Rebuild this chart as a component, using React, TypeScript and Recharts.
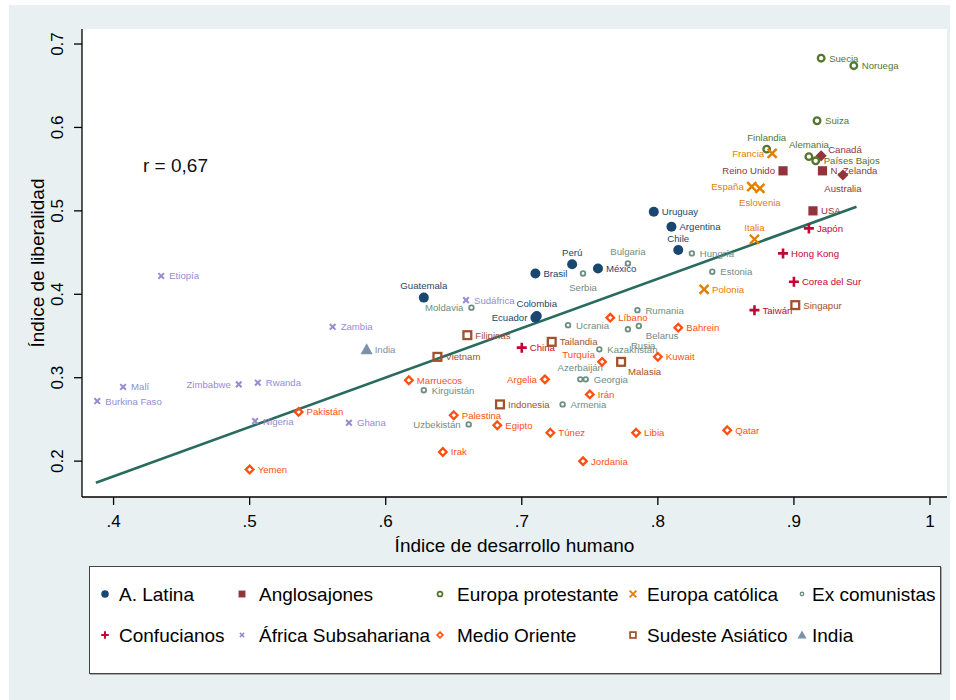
import React from 'react'
import {
  ScatterChart,
  Scatter,
  XAxis,
  YAxis,
  CartesianGrid,
  ReferenceLine,
} from 'recharts'

type Pais = { pais: string; idh: number; lib: number }

const aLatina: Pais[] = [
  { pais: 'Uruguay', idh: 0.797, lib: 0.499 },
  { pais: 'Argentina', idh: 0.81, lib: 0.481 },
  { pais: 'Chile', idh: 0.815, lib: 0.453 },
  { pais: 'Perú', idh: 0.737, lib: 0.436 },
  { pais: 'México', idh: 0.756, lib: 0.431 },
  { pais: 'Brasil', idh: 0.71, lib: 0.425 },
  { pais: 'Guatemala', idh: 0.628, lib: 0.396 },
  { pais: 'Colombia', idh: 0.711, lib: 0.374 },
  { pais: 'Ecuador', idh: 0.71, lib: 0.372 },
]

const anglosajones: Pais[] = [
  { pais: 'Reino Unido', idh: 0.892, lib: 0.548 },
  { pais: 'N. Zelanda', idh: 0.921, lib: 0.548 },
  { pais: 'Canadá', idh: 0.92, lib: 0.566 },
  { pais: 'Australia', idh: 0.936, lib: 0.543 },
  { pais: 'USA', idh: 0.914, lib: 0.5 },
]

const europaProtestante: Pais[] = [
  { pais: 'Suecia', idh: 0.92, lib: 0.683 },
  { pais: 'Noruega', idh: 0.944, lib: 0.674 },
  { pais: 'Suiza', idh: 0.917, lib: 0.608 },
  { pais: 'Finlandia', idh: 0.88, lib: 0.574 },
  { pais: 'Alemania', idh: 0.911, lib: 0.565 },
  { pais: 'Países Bajos', idh: 0.916, lib: 0.56 },
]

const europaCatolica: Pais[] = [
  { pais: 'Francia', idh: 0.884, lib: 0.569 },
  { pais: 'España', idh: 0.869, lib: 0.529 },
  { pais: 'Eslovenia', idh: 0.875, lib: 0.527 },
  { pais: 'Italia', idh: 0.871, lib: 0.466 },
  { pais: 'Polonia', idh: 0.834, lib: 0.406 },
]

const exComunistas: Pais[] = [
  { pais: 'Bulgaria', idh: 0.778, lib: 0.437 },
  { pais: 'Serbia', idh: 0.745, lib: 0.425 },
  { pais: 'Hungría', idh: 0.825, lib: 0.449 },
  { pais: 'Estonia', idh: 0.84, lib: 0.427 },
  { pais: 'Rumania', idh: 0.785, lib: 0.381 },
  { pais: 'Moldavia', idh: 0.663, lib: 0.384 },
  { pais: 'Ucrania', idh: 0.734, lib: 0.363 },
  { pais: 'Belarus', idh: 0.786, lib: 0.362 },
  { pais: 'Rusia', idh: 0.778, lib: 0.358 },
  { pais: 'Kazakhstán', idh: 0.757, lib: 0.334 },
  { pais: 'Azerbaiján', idh: 0.743, lib: 0.298 },
  { pais: 'Georgia', idh: 0.747, lib: 0.298 },
  { pais: 'Armenia', idh: 0.73, lib: 0.268 },
  { pais: 'Kirguistán', idh: 0.628, lib: 0.285 },
  { pais: 'Uzbekistán', idh: 0.661, lib: 0.244 },
]

const confucianos: Pais[] = [
  { pais: 'Japón', idh: 0.911, lib: 0.479 },
  { pais: 'Hong Kong', idh: 0.892, lib: 0.449 },
  { pais: 'Corea del Sur', idh: 0.9, lib: 0.415 },
  { pais: 'Taiwán', idh: 0.871, lib: 0.381 },
  { pais: 'China', idh: 0.7, lib: 0.336 },
]

const africa: Pais[] = [
  { pais: 'Etiopía', idh: 0.435, lib: 0.422 },
  { pais: 'Zambia', idh: 0.561, lib: 0.361 },
  { pais: 'Malí', idh: 0.407, lib: 0.289 },
  { pais: 'Burkina Faso', idh: 0.388, lib: 0.272 },
  { pais: 'Zimbabwe', idh: 0.492, lib: 0.292 },
  { pais: 'Rwanda', idh: 0.506, lib: 0.294 },
  { pais: 'Nigeria', idh: 0.504, lib: 0.248 },
  { pais: 'Ghana', idh: 0.573, lib: 0.246 },
  { pais: 'Sudáfrica', idh: 0.659, lib: 0.393 },
]

const medioOriente: Pais[] = [
  { pais: 'Pakistán', idh: 0.536, lib: 0.259 },
  { pais: 'Yemen', idh: 0.5, lib: 0.19 },
  { pais: 'Marruecos', idh: 0.617, lib: 0.297 },
  { pais: 'Argelia', idh: 0.717, lib: 0.298 },
  { pais: 'Palestina', idh: 0.65, lib: 0.255 },
  { pais: 'Egipto', idh: 0.682, lib: 0.243 },
  { pais: 'Irak', idh: 0.642, lib: 0.211 },
  { pais: 'Túnez', idh: 0.721, lib: 0.234 },
  { pais: 'Jordania', idh: 0.745, lib: 0.2 },
  { pais: 'Irán', idh: 0.75, lib: 0.28 },
  { pais: 'Libia', idh: 0.784, lib: 0.234 },
  { pais: 'Turquía', idh: 0.759, lib: 0.319 },
  { pais: 'Líbano', idh: 0.765, lib: 0.372 },
  { pais: 'Bahrein', idh: 0.815, lib: 0.36 },
  { pais: 'Kuwait', idh: 0.8, lib: 0.325 },
  { pais: 'Qatar', idh: 0.851, lib: 0.237 },
]

const sudesteAsiatico: Pais[] = [
  { pais: 'Filipinas', idh: 0.66, lib: 0.351 },
  { pais: 'Vietnam', idh: 0.638, lib: 0.325 },
  { pais: 'Tailandia', idh: 0.722, lib: 0.343 },
  { pais: 'Malasia', idh: 0.773, lib: 0.319 },
  { pais: 'Indonesia', idh: 0.684, lib: 0.268 },
  { pais: 'Singapur', idh: 0.901, lib: 0.387 },
]

const india: Pais[] = [{ pais: 'India', idh: 0.586, lib: 0.334 }]

// recta de ajuste (extremos)
const ajuste = [
  { idh: 0.387, lib: 0.174 },
  { idh: 0.946, lib: 0.505 },
]

const xTicks = [0.4, 0.5, 0.6, 0.7, 0.8, 0.9, 1]
const yTicks = [0.2, 0.3, 0.4, 0.5, 0.6, 0.7]

const FONT = '"Liberation Sans", Arial, Helvetica, sans-serif'

const grupos = [
  { nombre: 'A. Latina', datos: aLatina, color: '#1a476f', sym: 'circle' },
  { nombre: 'Anglosajones', datos: anglosajones, color: '#90353b', sym: 'square' },
  { nombre: 'Europa protestante', datos: europaProtestante, color: '#55752f', sym: 'ocircle' },
  { nombre: 'Europa católica', datos: europaCatolica, color: '#e37e00', sym: 'x' },
  { nombre: 'Ex comunistas', datos: exComunistas, color: '#6e8e84', sym: 'socircle' },
  { nombre: 'Confucianos', datos: confucianos, color: '#c10534', sym: 'plus' },
  { nombre: 'África Subsahariana', datos: africa, color: '#938dd2', sym: 'sx' },
  { nombre: 'Medio Oriente', datos: medioOriente, color: '#ff5012', sym: 'odiamond' },
  { nombre: 'Sudeste Asiático', datos: sudesteAsiatico, color: '#a0522d', sym: 'osquare' },
  { nombre: 'India', datos: india, color: '#7b92a8', sym: 'triangle' },
]

// Canadá y Australia llevan rombo relleno
const rombos = ['Canadá', 'Australia']

// posición de la etiqueta (por defecto a la derecha)
const posEtiqueta: Record<string, string> = {
  Chile: 't', Perú: 't', Guatemala: 't', Colombia: 't', Ecuador: 'l',
  'Reino Unido': 'l', Canadá: 'tr', Australia: 'b',
  Finlandia: 't', Alemania: 't',
  Francia: 'l', España: 'l', Eslovenia: 'b', Italia: 't',
  Bulgaria: 't', Serbia: 'b', Moldavia: 'l', Belarus: 'br', Rusia: 'bb',
  Azerbaiján: 't', Uzbekistán: 'l',
  Zimbabwe: 'l', Argelia: 'l', Turquía: 'tl', Malasia: 'br',
}

function Simbolo({ sym, x, y, color, k = 1 }: { sym: string; x: number; y: number; color: string; k?: number }) {
  switch (sym) {
    case 'circle':
      return <circle cx={x} cy={y} r={5 * k} fill={color} />
    case 'square':
      return <rect x={x - 4.6 * k} y={y - 4.6 * k} width={9.2 * k} height={9.2 * k} fill={color} />
    case 'diamond': {
      const d = 5.6 * k
      return <polygon points={`${x},${y - d} ${x + d},${y} ${x},${y + d} ${x - d},${y}`} fill={color} />
    }
    case 'ocircle':
      return <circle cx={x} cy={y} r={3.3 * k} fill="none" stroke={color} strokeWidth={2.3 * k} />
    case 'socircle':
      return <circle cx={x} cy={y} r={2.3 * k} fill="none" stroke={color} strokeWidth={1.8 * k} />
    case 'x': {
      const d = 4.5 * k
      return (
        <path d={`M${x - d},${y - d}L${x + d},${y + d}M${x + d},${y - d}L${x - d},${y + d}`} stroke={color} strokeWidth={2.4 * k} />
      )
    }
    case 'sx': {
      const d = 2.8 * k
      return (
        <path d={`M${x - d},${y - d}L${x + d},${y + d}M${x + d},${y - d}L${x - d},${y + d}`} stroke={color} strokeWidth={2 * k} />
      )
    }
    case 'plus': {
      const d = 5 * k
      return <path d={`M${x - d},${y}H${x + d}M${x},${y - d}V${y + d}`} stroke={color} strokeWidth={2.6 * k} />
    }
    case 'odiamond': {
      const d = 3.8 * k
      return (
        <polygon points={`${x},${y - d} ${x + d},${y} ${x},${y + d} ${x - d},${y}`} fill="none" stroke={color} strokeWidth={2.3 * k} />
      )
    }
    case 'osquare': {
      const d = 3.9 * k
      return <rect x={x - d} y={y - d} width={2 * d} height={2 * d} fill="none" stroke={color} strokeWidth={2.3 * k} />
    }
    case 'triangle': {
      const d = 6 * k
      return <polygon points={`${x},${y - d} ${x + d},${y + d * 0.8} ${x - d},${y + d * 0.8}`} fill={color} />
    }
  }
  return null
}

function Etiqueta({ x, y, texto, color }: { x: number; y: number; texto: string; color: string }) {
  const pos = posEtiqueta[texto] || 'r'
  let tx = x + 8
  let ty = y
  let anchor: 'start' | 'middle' | 'end' = 'start'
  if (pos === 'l') { tx = x - 8; anchor = 'end' }
  if (pos === 't') { tx = x; ty = y - 12; anchor = 'middle' }
  if (pos === 'b') { tx = x; ty = y + 14; anchor = 'middle' }
  if (pos === 'tr') { tx = x + 7; ty = y - 6 }
  if (pos === 'tl') { tx = x - 7; ty = y - 7; anchor = 'end' }
  if (pos === 'br') { tx = x + 7; ty = y + 10 }
  if (pos === 'bb') { tx = x + 3; ty = y + 16 }
  return (
    <text x={tx} y={ty} textAnchor={anchor} dominantBaseline="central" fontSize={9.6} fontFamily={FONT} fill={color}>
      {texto}
    </text>
  )
}

const TickX = (props: any) => {
  const { x, y, payload } = props
  const v = payload.value === 1 ? '1' : String(payload.value).replace('0.', '.')
  return (
    <text x={x} y={y + 20} textAnchor="middle" fontSize={17} fontFamily={FONT} fill="#000">
      {v}
    </text>
  )
}

const TickY = (props: any) => {
  const { x, y, payload } = props
  const bx = x - 9
  return (
    <text x={bx} y={y} transform={`rotate(-90, ${bx}, ${y})`} textAnchor="middle" fontSize={17} fontFamily={FONT} fill="#000">
      {payload.value.toFixed(1)}
    </text>
  )
}

function Leyenda() {
  const colX = [15, 152, 350, 543, 712]
  const txtX = [29, 169, 367, 557, 722]
  const filas = [27, 68]
  return (
    <svg width={850} height={106} style={{ display: 'block' }}>
      {grupos.map((g, i) => {
        const c = i % 5
        const f = Math.floor(i / 5)
        return (
          <g key={g.nombre}>
            <Simbolo sym={g.sym} x={colX[c]} y={filas[f]} color={g.color} k={0.75} />
            <text x={txtX[c]} y={filas[f]} dominantBaseline="central" fontSize={19} fontFamily={FONT} fill="#000">
              {g.nombre}
            </text>
          </g>
        )
      })}
    </svg>
  )
}

export default function App() {
  return (
    <div style={{ position: 'absolute', left: 0, top: 0, width: 956, height: 700, background: '#fff' }}>
      <div style={{ position: 'absolute', left: 9, top: 5, width: 941, height: 695, background: '#e8f0f2' }}>
        <ScatterChart width={941} height={560} margin={{ top: 24, right: 3, bottom: 0, left: 0 }}>
          <CartesianGrid fill="#fff" horizontal={false} vertical={false} />
          <XAxis
            type="number"
            dataKey="idh"
            domain={[0.3768, 1.0125]}
            allowDataOverflow
            ticks={xTicks}
            tickSize={8}
            height={68}
            tick={<TickX />}
            axisLine={{ stroke: '#000', strokeWidth: 1.3 }}
            tickLine={{ stroke: '#000', strokeWidth: 1.3 }}
            label={(p: any) => {
              const vb = p.viewBox
              return (
                <text x={vb.x + vb.width / 2} y={vb.y + 55} textAnchor="middle" fontSize={19} fontFamily={FONT} fill="#000">
                  Índice de desarrollo humano
                </text>
              )
            }}
          />
          <YAxis
            type="number"
            dataKey="lib"
            domain={[0.157, 0.718]}
            allowDataOverflow
            ticks={yTicks}
            tickSize={8}
            width={73}
            tick={<TickY />}
            axisLine={{ stroke: '#000', strokeWidth: 1.3 }}
            tickLine={{ stroke: '#000', strokeWidth: 1.3 }}
            label={(p: any) => {
              const vb = p.viewBox
              const cy = vb.y + vb.height / 2
              return (
                <text x={35} y={cy} transform={`rotate(-90, 35, ${cy})`} textAnchor="middle" fontSize={19} fontFamily={FONT} fill="#000">
                  Índice de liberalidad
                </text>
              )
            }}
          />
          {grupos.map((g) => (
            <Scatter
              key={g.nombre}
              name={g.nombre}
              data={g.datos}
              isAnimationActive={false}
              shape={(p: any) => (
                <g>
                  <Simbolo
                    sym={rombos.includes(p.payload.pais) ? 'diamond' : g.sym}
                    x={p.cx}
                    y={p.cy}
                    color={g.color}
                  />
                  <Etiqueta x={p.cx} y={p.cy} texto={p.payload.pais} color={g.color} />
                </g>
              )}
            />
          ))}
          <ReferenceLine
            segment={[
              { x: ajuste[0].idh, y: ajuste[0].lib },
              { x: ajuste[1].idh, y: ajuste[1].lib },
            ]}
            stroke="#2a6b60"
            strokeWidth={2.6}
            ifOverflow="visible"
          />
        </ScatterChart>
        <div style={{ position: 'absolute', left: 134, top: 151, fontFamily: FONT, fontSize: 19, lineHeight: '20px', color: '#111' }}>
          r = 0,67
        </div>
        <div
          style={{
            position: 'absolute',
            left: 80,
            top: 561,
            width: 850,
            height: 106,
            background: '#fff',
            border: '1px solid #444',
            boxShadow: '1px 1px 0 #aaa',
          }}
        >
          <Leyenda />
        </div>
      </div>
    </div>
  )
}
